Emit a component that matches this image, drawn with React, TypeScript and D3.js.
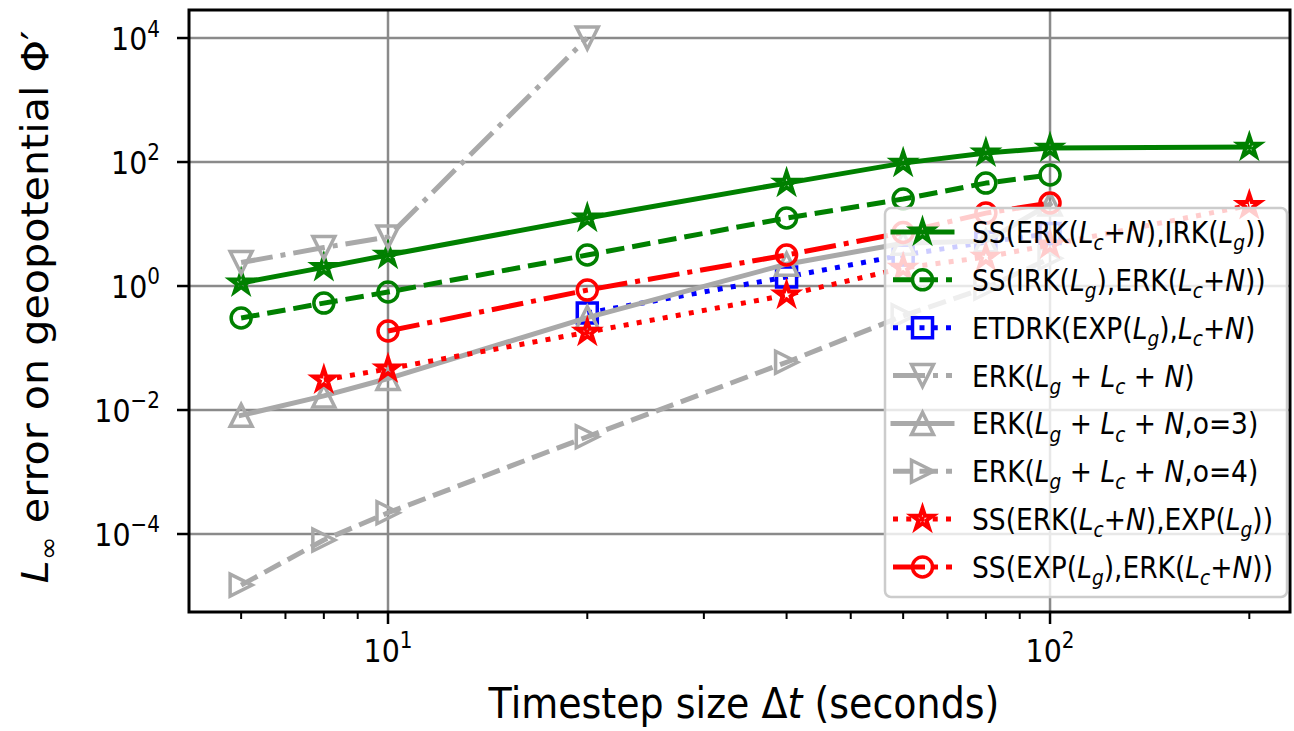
import React from "react";
import * as d3 from "d3";

// ---------- data ----------
const seriesNames = [
  "SS(ERK($L_c$+$N$),IRK($L_g$))",
  "SS(IRK($L_g$),ERK($L_c$+$N$))",
  "ETDRK(EXP($L_g$),$L_c$+$N$)",
  "ERK($L_g$ + $L_c$ + $N$)",
  "ERK($L_g$ + $L_c$ + $N$,o=3)",
  "ERK($L_g$ + $L_c$ + $N$,o=4)",
  "SS(ERK($L_c$+$N$),EXP($L_g$))",
  "SS(EXP($L_g$),ERK($L_c$+$N$))",
];

const dtSsErkIrk = [6, 8, 10, 20, 40, 60, 80, 100, 200];
const errSsErkIrk = [1.12, 2.0, 3.16, 12.5, 45.7, 96, 140, 168, 174];

const dtSsIrkErk = [6, 8, 10, 20, 40, 60, 80, 100];
const errSsIrkErk = [0.305, 0.53, 0.8, 3.16, 12.5, 25.3, 45.7, 61.7];

const dtEtdrk = [20, 40, 60, 80, 100];
const errEtdrk = [0.367, 1.4, 3.16, 5.1, 7.0];

const dtErk = [6, 8, 10, 20];
const errErk = [2.39, 4.17, 6.2, 10000];

const dtErk3 = [6, 8, 10, 20, 40, 60, 80, 100];
const errErk3 = [0.0082, 0.0169, 0.0322, 0.31, 2.25, 4.9, 5.3, 21];

const dtErk4 = [6, 8, 10, 20, 40, 60, 80, 100];
const errErk4 = [1.5e-5, 8e-5, 2.2e-4, 3.7e-3, 0.059, 0.33, 0.93, 2.8];

const dtSsErkExp = [8, 10, 20, 40, 60, 80, 100, 200];
const errSsErkExp = [0.0305, 0.046, 0.18, 0.716, 1.95, 2.93, 4.6, 20];

const dtSsExpErk = [10, 20, 40, 60, 80, 100];
const errSsExpErk = [0.188, 0.86, 3.16, 7.3, 15, 21.8];

const xMajorTicks = [10, 100];
const xMinorTicks = [6, 7, 8, 9, 20, 30, 40, 50, 60, 70, 80, 90, 200];
const yMajorTicks = [1e-4, 1e-2, 1, 1e2, 1e4];

const xLabel = "Timestep size $Δt$ (seconds)";
const yLabel = "$L_∞$ error on geopotential $Φ$′";

// ---------- styles ----------
const seriesData = [
  [dtSsErkIrk, errSsErkIrk],
  [dtSsIrkErk, errSsIrkErk],
  [dtEtdrk, errEtdrk],
  [dtErk, errErk],
  [dtErk3, errErk3],
  [dtErk4, errErk4],
  [dtSsErkExp, errSsErkExp],
  [dtSsExpErk, errSsExpErk],
];
const seriesStyle = [
  { color: "#008000", dash: "solid", marker: "star" },
  { color: "#008000", dash: "dashed", marker: "circle" },
  { color: "#0000ff", dash: "dotted", marker: "square" },
  { color: "#a9a9a9", dash: "dashdot", marker: "tri_down" },
  { color: "#a9a9a9", dash: "solid", marker: "tri_up" },
  { color: "#a9a9a9", dash: "dashed", marker: "tri_right" },
  { color: "#ff0000", dash: "dotted", marker: "star" },
  { color: "#ff0000", dash: "dashdot", marker: "circle" },
];

const LW = 5;
const dashArrays: Record<string, string | undefined> = {
  solid: undefined,
  dashed: `${3.7 * LW},${1.6 * LW}`,
  dotted: `${1 * LW},${1.65 * LW}`,
  dashdot: `${6.4 * LW},${1.6 * LW},${1 * LW},${1.6 * LW}`,
};

const FONT = "DejaVu Sans, Verdana, sans-serif";
const AX = { left: 189, right: 1290, top: 10, bottom: 612 };
const STRETCH = 1.13;

const xScale = d3.scaleLog().domain([5.005, 230.4]).range([AX.left, AX.right]);
const yScale = d3
  .scaleLog()
  .domain([Math.pow(10, -5.258), Math.pow(10, 4.452)])
  .range([AX.bottom, AX.top]);

const markerStroke: Record<string, number> = { star: 4, circle: 3.5, square: 3.5, tri_up: 3.5, tri_down: 3.5, tri_right: 3.5 };

function markerPath(kind: string): string {
  const sizes: Record<string, number> = { star: 22, circle: 20, square: 20, tri_up: 22, tri_down: 22, tri_right: 22 };
  const s = sizes[kind];
  const h = s / 2;
  if (kind === "star") {
    const pts: string[] = [];
    for (let i = 0; i < 10; i++) {
      const r = i % 2 === 0 ? h : h * 0.381966;
      const a = -Math.PI / 2 + (i * Math.PI) / 5;
      pts.push(`${(r * Math.cos(a)).toFixed(2)},${(r * Math.sin(a)).toFixed(2)}`);
    }
    return "M" + pts.join("L") + "Z";
  }
  if (kind === "circle") {
    const p = d3.path();
    p.arc(0, 0, h, 0, Math.PI * 2);
    p.closePath();
    return p.toString();
  }
  if (kind === "square") return `M${-h},${-h}L${h},${-h}L${h},${h}L${-h},${h}Z`;
  if (kind === "tri_up") return `M0,${-h}L${h},${h}L${-h},${h}Z`;
  if (kind === "tri_down") return `M0,${h}L${-h},${-h}L${h},${-h}Z`;
  if (kind === "tri_right") return `M${h},0L${-h},${-h}L${-h},${h}Z`;
  return "";
}

type Seg = { t: string; it: boolean; sub: boolean };
function parseMath(s: string): Seg[] {
  const out: Seg[] = [];
  let math = false;
  for (let i = 0; i < s.length; i++) {
    const c = s[i];
    if (c === "$") {
      math = !math;
      continue;
    }
    let seg: Seg;
    if (math && c === "_") {
      const n = s[i + 1];
      i++;
      seg = { t: n, it: /[a-zA-Z]/.test(n), sub: true };
    } else {
      seg = { t: c, it: math && /[a-zA-Z]/.test(c), sub: false };
    }
    const last = out[out.length - 1];
    if (last && last.it === seg.it && last.sub === seg.sub) last.t += seg.t;
    else out.push(seg);
  }
  return out;
}

function MathText(props: { str: string; transform: string; fs: number; anchor?: string }) {
  const { str, fs, anchor, transform } = props;
  const segs = parseMath(str);
  const shift = 0.24 * fs;
  let prevSub = false;
  const kids = segs.map((sg, i) => {
    let dy = 0;
    if (sg.sub && !prevSub) dy = shift;
    if (!sg.sub && prevSub) dy = -shift;
    prevSub = sg.sub;
    return (
      <tspan key={i} dy={dy || undefined} fontSize={sg.sub ? fs * 0.7 : fs} fontStyle={sg.it ? "italic" : "normal"}>
        {sg.t}
      </tspan>
    );
  });
  return (
    <g transform={transform}>
      <text x={0} y={0} fontSize={fs} textAnchor={anchor || "start"} fontFamily={FONT} fill="#000" style={{ whiteSpace: "pre" }}>
        {kids}
      </text>
    </g>
  );
}

function PowLabel(props: { v: number; x: number; y: number; fs: number; anchor: string }) {
  const { v, x, y, fs, anchor } = props;
  const e = Math.round(Math.log10(v));
  const es = e < 0 ? "\u2212" + Math.abs(e) : String(e);
  return (
    <g transform={`translate(${x},${y}) scale(1,${STRETCH})`}>
      <text x={0} y={0} fontSize={fs} textAnchor={anchor} fontFamily={FONT} fill="#000">
        10
        <tspan dy={-0.42 * fs} fontSize={fs * 0.7}>
          {es}
        </tspan>
      </text>
    </g>
  );
}

export default function App() {
  const line = d3
    .line<[number, number]>()
    .x((d) => xScale(d[0]))
    .y((d) => yScale(d[1]));

  const gridColor = "#8a8a8a";
  const tickFs = 28.5;
  const labelFs = 38;
  const yLabelFs = 36.5;
  const legFs = 26.5;

  const legX0 = 885,
    legY0 = 208,
    legW = 402,
    legH = 389;
  const legRow0 = 232,
    legRowH = 47.85;

  return (
    <svg width={1294} height={731} style={{ position: "absolute", left: 0, top: 0, background: "#fff" }}>
      <defs>
        <clipPath id="axclip">
          <rect x={AX.left} y={AX.top} width={AX.right - AX.left} height={AX.bottom - AX.top} />
        </clipPath>
      </defs>
      <rect x={0} y={0} width={1294} height={731} fill="#fff" />

      {/* grid */}
      <g stroke={gridColor} strokeWidth={2.5}>
        {xMajorTicks.map((t) => (
          <line key={"gx" + t} x1={xScale(t)} x2={xScale(t)} y1={AX.top} y2={AX.bottom} />
        ))}
        {yMajorTicks.map((t) => (
          <line key={"gy" + t} x1={AX.left} x2={AX.right} y1={yScale(t)} y2={yScale(t)} />
        ))}
      </g>

      {/* data */}
      <g clipPath="url(#axclip)">
        {seriesData.map(([xs, ys], i) => {
          const st = seriesStyle[i];
          const pts = xs.map((x, j) => [x, ys[j]] as [number, number]);
          const mp = markerPath(st.marker);
          return (
            <g key={"s" + i}>
              <path
                d={line(pts) || ""}
                fill="none"
                stroke={st.color}
                strokeWidth={LW}
                strokeDasharray={dashArrays[st.dash]}
                strokeLinejoin="round"
                strokeLinecap={st.dash === "solid" ? "square" : "butt"}
              />
              {pts.map((p, j) => (
                <path
                  key={j}
                  d={mp}
                  transform={`translate(${xScale(p[0])},${yScale(p[1])})`}
                  fill="none"
                  stroke={st.color}
                  strokeWidth={markerStroke[st.marker]}
                  strokeLinejoin="miter"
                />
              ))}
            </g>
          );
        })}
      </g>

      {/* spines */}
      <rect x={AX.left} y={AX.top} width={AX.right - AX.left} height={AX.bottom - AX.top} fill="none" stroke="#000" strokeWidth={3} />

      {/* ticks */}
      <g stroke="#000">
        {xMajorTicks.map((t) => (
          <line key={"tx" + t} x1={xScale(t)} x2={xScale(t)} y1={AX.bottom} y2={AX.bottom + 12} strokeWidth={2.5} />
        ))}
        {xMinorTicks.map((t) => (
          <line key={"tmx" + t} x1={xScale(t)} x2={xScale(t)} y1={AX.bottom} y2={AX.bottom + 7} strokeWidth={2} />
        ))}
        {yMajorTicks.map((t) => (
          <line key={"ty" + t} x1={AX.left - 12} x2={AX.left} y1={yScale(t)} y2={yScale(t)} strokeWidth={2.5} />
        ))}
      </g>

      {/* tick labels */}
      {xMajorTicks.map((t) => (
        <PowLabel key={"lx" + t} v={t} x={xScale(t)} y={AX.bottom + 50} fs={tickFs} anchor="middle" />
      ))}
      {yMajorTicks.map((t) => (
        <PowLabel key={"ly" + t} v={t} x={160} y={yScale(t) + 12} fs={tickFs} anchor="end" />
      ))}

      {/* axis labels */}
      <MathText str={xLabel} transform={`translate(744,718) scale(1,${STRETCH})`} fs={labelFs} anchor="middle" />
      <MathText str={yLabel} transform={`translate(48,307) scale(1,${STRETCH}) rotate(-90)`} fs={yLabelFs} anchor="middle" />

      {/* legend */}
      <rect x={legX0} y={legY0} width={legW} height={legH} rx={6} ry={6} fill="#fff" fillOpacity={0.8} stroke="#cccccc" strokeWidth={2.5} />
      {seriesNames.map((nm, i) => {
        const st = seriesStyle[i];
        const y = legRow0 + i * legRowH;
        const mp = markerPath(st.marker);
        return (
          <g key={"leg" + i}>
            <line
              x1={893}
              x2={952}
              y1={y}
              y2={y}
              stroke={st.color}
              strokeWidth={LW}
              strokeDasharray={dashArrays[st.dash]}
              strokeLinecap={st.dash === "solid" ? "square" : "butt"}
            />
            <path d={mp} transform={`translate(922.5,${y})`} fill="none" stroke={st.color} strokeWidth={markerStroke[st.marker]} />
            <MathText str={nm} transform={`translate(972,${y + 11}) scale(1,${STRETCH})`} fs={legFs} />
          </g>
        );
      })}
    </svg>
  );
}
